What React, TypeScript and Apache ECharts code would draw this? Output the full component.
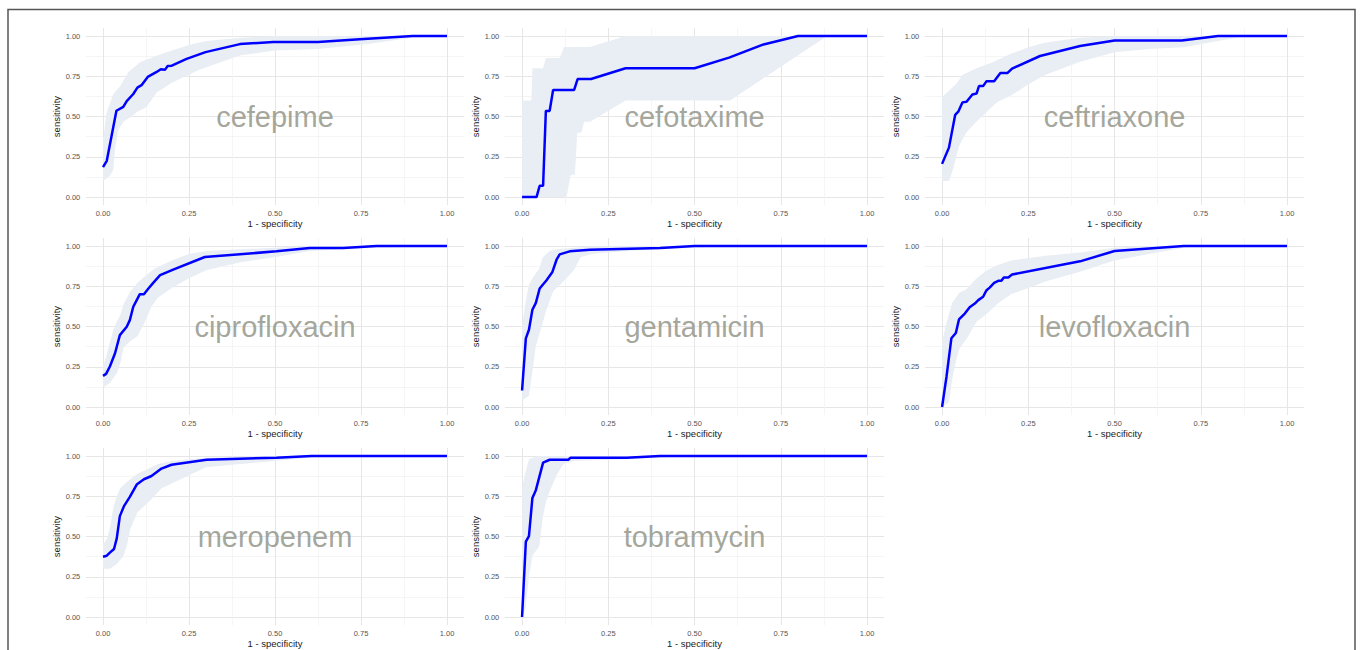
import React, { useEffect, useRef } from "react";
import * as echarts from "echarts";

const drugs = ["cefepime", "cefotaxime", "ceftriaxone", "ciprofloxacin", "gentamicin", "levofloxacin", "meropenem", "tobramycin"];
const xTicks = [0, 0.25, 0.5, 0.75, 1];
const yTicks = [0, 0.25, 0.5, 0.75, 1];
const minorTicks = [0.125, 0.375, 0.625, 0.875];
const xTitle = "1 - specificity";
const yTitle = "sensitivity";

const cefepimeCurve = [[0,0.186],[0.011,0.225],[0.039,0.536],[0.059,0.56],[0.069,0.596],[0.088,0.64],[0.1,0.68],[0.112,0.695],[0.13,0.746],[0.156,0.777],[0.168,0.794],[0.18,0.79],[0.188,0.814],[0.2,0.816],[0.243,0.858],[0.298,0.9],[0.398,0.95],[0.495,0.963],[0.625,0.963],[0.746,0.98],[0.9,1],[1,1]];
const cefepimeUpper = [[0,0.35],[0.01,0.52],[0.02,0.58],[0.03,0.64],[0.05,0.69],[0.075,0.78],[0.11,0.84],[0.16,0.88],[0.2,0.91],[0.26,0.95],[0.3,0.97],[0.4,0.99],[0.5,1],[1,1]];
const cefepimeLower = [[0,0.1],[0.02,0.13],[0.03,0.17],[0.035,0.3],[0.045,0.42],[0.06,0.47],[0.075,0.49],[0.1,0.53],[0.127,0.56],[0.156,0.65],[0.2,0.71],[0.28,0.79],[0.4,0.88],[0.5,0.91],[0.625,0.92],[0.77,0.95],[0.9,0.99],[1,1]];

const cefotaximeCurve = [[0,0],[0.042,0],[0.051,0.07],[0.061,0.07],[0.069,0.535],[0.08,0.535],[0.09,0.665],[0.151,0.665],[0.161,0.733],[0.2,0.733],[0.3,0.8],[0.5,0.8],[0.6,0.866],[0.7,0.948],[0.8,1],[1,1]];
const cefotaximeUpper = [[0,0.6],[0.027,0.6],[0.03,0.8],[0.061,0.8],[0.069,0.864],[0.109,0.864],[0.122,0.932],[0.197,0.932],[0.3,1],[1,1]];
const cefotaximeLower = [[0,0],[0.129,0],[0.141,0.138],[0.153,0.138],[0.16,0.4],[0.172,0.4],[0.18,0.468],[0.197,0.468],[0.3,0.6],[0.603,0.6],[0.884,1],[1,1]];

const ceftriaxoneCurve = [[0,0.206],[0.02,0.307],[0.038,0.51],[0.047,0.53],[0.059,0.588],[0.071,0.592],[0.088,0.637],[0.1,0.643],[0.107,0.689],[0.119,0.689],[0.129,0.72],[0.151,0.72],[0.169,0.771],[0.19,0.771],[0.203,0.798],[0.284,0.876],[0.4,0.938],[0.5,0.973],[0.695,0.973],[0.8,1],[1,1]];
const ceftriaxoneUpper = [[0,0.62],[0.02,0.66],[0.04,0.7],[0.06,0.76],[0.1,0.8],[0.15,0.84],[0.2,0.89],[0.25,0.93],[0.3,0.96],[0.4,0.99],[0.5,1],[1,1]];
const ceftriaxoneLower = [[0,0.1],[0.02,0.1],[0.03,0.16],[0.05,0.32],[0.07,0.4],[0.1,0.47],[0.13,0.53],[0.16,0.59],[0.2,0.63],[0.25,0.7],[0.3,0.76],[0.4,0.84],[0.5,0.9],[0.6,0.92],[0.7,0.93],[0.8,0.97],[0.88,1],[1,1]];

const ciprofloxacinCurve = [[0,0.194],[0.009,0.206],[0.02,0.252],[0.035,0.334],[0.049,0.447],[0.069,0.499],[0.078,0.54],[0.088,0.623],[0.098,0.664],[0.107,0.701],[0.119,0.701],[0.132,0.736],[0.146,0.771],[0.166,0.819],[0.204,0.854],[0.296,0.932],[0.504,0.967],[0.601,0.988],[0.698,0.988],[0.795,1],[1,1]];
const ciprofloxacinUpper = [[0,0.25],[0.01,0.32],[0.02,0.4],[0.03,0.48],[0.04,0.53],[0.05,0.57],[0.06,0.64],[0.08,0.72],[0.1,0.77],[0.12,0.81],[0.15,0.86],[0.2,0.91],[0.25,0.95],[0.3,0.97],[0.4,0.98],[0.5,0.99],[0.6,1],[1,1]];
const ciprofloxacinLower = [[0,0.12],[0.02,0.15],[0.04,0.21],[0.05,0.27],[0.06,0.37],[0.08,0.41],[0.1,0.44],[0.12,0.52],[0.14,0.62],[0.16,0.68],[0.2,0.74],[0.25,0.8],[0.3,0.85],[0.4,0.9],[0.5,0.93],[0.6,0.97],[0.7,0.98],[0.8,0.99],[1,1]];

const gentamicinCurve = [[0,0.103],[0.011,0.427],[0.02,0.48],[0.03,0.604],[0.04,0.647],[0.051,0.736],[0.071,0.788],[0.088,0.839],[0.1,0.915],[0.109,0.948],[0.138,0.967],[0.197,0.977],[0.4,0.988],[0.5,1],[1,1]];
const gentamicinUpper = [[0,0.5],[0.01,0.65],[0.02,0.76],[0.03,0.8],[0.05,0.86],[0.06,0.93],[0.08,0.97],[0.1,0.98],[0.15,0.99],[0.2,0.995],[0.3,1],[1,1]];
const gentamicinLower = [[0,0.04],[0.02,0.07],[0.03,0.22],[0.04,0.38],[0.05,0.45],[0.07,0.6],[0.09,0.72],[0.12,0.78],[0.15,0.85],[0.17,0.93],[0.2,0.95],[0.3,0.97],[0.4,0.98],[0.5,0.99],[0.6,1],[1,1]];

const levofloxacinCurve = [[0,0],[0.013,0.19],[0.027,0.427],[0.04,0.46],[0.049,0.544],[0.066,0.581],[0.08,0.62],[0.095,0.643],[0.105,0.664],[0.119,0.685],[0.129,0.726],[0.138,0.742],[0.151,0.771],[0.163,0.784],[0.172,0.784],[0.179,0.805],[0.192,0.805],[0.203,0.823],[0.4,0.905],[0.5,0.969],[0.7,1],[1,1]];
const levofloxacinUpper = [[0,0.4],[0.01,0.5],[0.02,0.58],[0.03,0.65],[0.05,0.71],[0.07,0.73],[0.1,0.8],[0.13,0.85],[0.16,0.88],[0.2,0.91],[0.3,0.94],[0.4,0.96],[0.5,0.99],[0.6,1],[1,1]];
const levofloxacinLower = [[0,0],[0.02,0.03],[0.03,0.18],[0.04,0.28],[0.05,0.36],[0.07,0.42],[0.1,0.53],[0.13,0.58],[0.16,0.64],[0.2,0.7],[0.25,0.74],[0.3,0.78],[0.4,0.84],[0.5,0.91],[0.6,0.95],[0.7,0.99],[0.75,1],[1,1]];

const meropenemCurve = [[0,0.375],[0.011,0.381],[0.02,0.4],[0.032,0.423],[0.04,0.489],[0.049,0.627],[0.061,0.689],[0.078,0.746],[0.098,0.823],[0.119,0.856],[0.141,0.876],[0.17,0.922],[0.199,0.946],[0.301,0.977],[0.504,0.99],[0.606,1],[1,1]];
const meropenemUpper = [[0,0.45],[0.01,0.48],[0.02,0.55],[0.03,0.68],[0.04,0.75],[0.05,0.8],[0.07,0.84],[0.1,0.89],[0.13,0.92],[0.16,0.95],[0.2,0.97],[0.25,0.98],[0.3,0.99],[0.4,0.995],[0.5,1],[1,1]];
const meropenemLower = [[0,0.3],[0.02,0.3],[0.04,0.33],[0.06,0.38],[0.07,0.45],[0.08,0.55],[0.1,0.65],[0.12,0.69],[0.14,0.73],[0.17,0.8],[0.2,0.83],[0.25,0.88],[0.3,0.93],[0.4,0.95],[0.5,0.97],[0.6,0.99],[0.7,1],[1,1]];

const tobramycinCurve = [[0,0],[0.011,0.468],[0.02,0.503],[0.03,0.74],[0.04,0.788],[0.061,0.959],[0.08,0.977],[0.109,0.977],[0.134,0.977],[0.141,0.99],[0.303,0.99],[0.4,1],[1,1]];
const tobramycinUpper = [[0,0.8],[0.01,0.9],[0.02,0.98],[0.03,0.99],[0.05,1],[1,1]];
const tobramycinLower = [[0,0],[0.01,0.05],[0.02,0.25],[0.03,0.38],[0.05,0.44],[0.06,0.62],[0.07,0.72],[0.08,0.78],[0.1,0.88],[0.12,0.95],[0.15,0.97],[0.3,0.98],[0.4,0.99],[0.47,1],[1,1]];

const curves = [cefepimeCurve, cefotaximeCurve, ceftriaxoneCurve, ciprofloxacinCurve, gentamicinCurve, levofloxacinCurve, meropenemCurve, tobramycinCurve];
const uppers = [cefepimeUpper, cefotaximeUpper, ceftriaxoneUpper, ciprofloxacinUpper, gentamicinUpper, levofloxacinUpper, meropenemUpper, tobramycinUpper];
const lowers = [cefepimeLower, cefotaximeLower, ceftriaxoneLower, ciprofloxacinLower, gentamicinLower, levofloxacinLower, meropenemLower, tobramycinLower];

const FONT = "Liberation Sans, Arial, sans-serif";
const colLeft = [85.8, 504.8, 924.8];
const colWidth = [378.4, 379.5, 379.5];
const rowTop = [28, 238, 448];
const rowHeight = 177.1;

function buildOption() {
  const grid: any[] = [];
  const xAxis: any[] = [];
  const yAxis: any[] = [];
  const series: any[] = [];
  drugs.forEach((name, i) => {
    const r = Math.floor(i / 3);
    const c = i % 3;
    grid.push({ left: colLeft[c], top: rowTop[r], width: colWidth[c], height: rowHeight, containLabel: false });
    const base = { type: "value", gridIndex: i, min: -0.05, max: 1.05, axisLine: { show: false } };
    xAxis.push({
      ...base,
      position: "bottom",
      name: xTitle,
      nameLocation: "middle",
      nameGap: 13,
      nameTextStyle: { fontFamily: FONT, fontSize: 9.5, color: "#1a1a1a" },
      axisTick: { show: false, customValues: xTicks },
      axisLabel: { customValues: xTicks, formatter: (v: number) => v.toFixed(2), fontFamily: FONT, fontSize: 7.5, color: "#555", margin: 4 },
      splitLine: { show: true, lineStyle: { color: "#e6e6e6", width: 1 } },
    });
    xAxis.push({
      ...base,
      position: "bottom",
      axisTick: { show: false, customValues: minorTicks },
      axisLabel: { show: false, customValues: minorTicks },
      splitLine: { show: true, lineStyle: { color: "#f2f2f2", width: 0.8 } },
    });
    yAxis.push({
      ...base,
      position: "left",
      name: yTitle,
      nameLocation: "middle",
      nameGap: 22,
      nameRotate: 90,
      nameTextStyle: { fontFamily: FONT, fontSize: 9.5, color: "#1a1a1a" },
      axisTick: { show: false, customValues: yTicks },
      axisLabel: { customValues: yTicks, formatter: (v: number) => v.toFixed(2), fontFamily: FONT, fontSize: 7.5, color: "#555", margin: 5.5 },
      splitLine: { show: true, lineStyle: { color: "#e6e6e6", width: 1 } },
    });
    yAxis.push({
      ...base,
      position: "left",
      axisTick: { show: false, customValues: minorTicks },
      axisLabel: { show: false, customValues: minorTicks },
      splitLine: { show: true, lineStyle: { color: "#f2f2f2", width: 0.8 } },
    });
    const polygon = [...uppers[i], ...lowers[i].slice().reverse()];
    series.push({
      type: "custom",
      xAxisIndex: 2 * i,
      yAxisIndex: 2 * i,
      data: polygon,
      encode: { x: 0, y: 1 },
      silent: true,
      z: 1,
      renderItem: (params: any, api: any) => {
        if (params.dataIndex !== 0) return null;
        const pts = polygon.map((p) => api.coord(p));
        return { type: "polygon", shape: { points: pts }, style: { fill: "#e9eef4" }, silent: true };
      },
    });
    series.push({
      type: "scatter",
      xAxisIndex: 2 * i,
      yAxisIndex: 2 * i,
      data: [[0.5, 0.5]],
      symbolSize: 1,
      itemStyle: { color: "transparent" },
      silent: true,
      z: 2,
      label: { show: true, position: "inside", formatter: name, fontFamily: FONT, fontSize: 29, color: "#8d8f82" },
    });
    series.push({
      type: "line",
      xAxisIndex: 2 * i,
      yAxisIndex: 2 * i,
      data: curves[i],
      showSymbol: false,
      symbol: "none",
      silent: true,
      z: 3,
      lineStyle: { color: "#0000ff", width: 2.5 },
    });
  });
  return {
    animation: false,
    backgroundColor: "#ffffff",
    grid,
    xAxis,
    yAxis,
    series,
    graphic: [
      { type: "rect", shape: { x: 8, y: 9.5, width: 1347, height: 700 }, style: { fill: "none", stroke: "#555555", lineWidth: 1.5 }, silent: true, z: 100 },
    ],
  };
}

export default function App() {
  const ref = useRef<HTMLDivElement>(null);
  useEffect(() => {
    if (!ref.current) return;
    const chart = echarts.init(ref.current, null, { renderer: "svg" });
    chart.setOption(buildOption() as any);
    return () => chart.dispose();
  }, []);
  return <div ref={ref} style={{ position: "fixed", left: 0, top: 0, width: 1360, height: 650, background: "#fff" }} />;
}
